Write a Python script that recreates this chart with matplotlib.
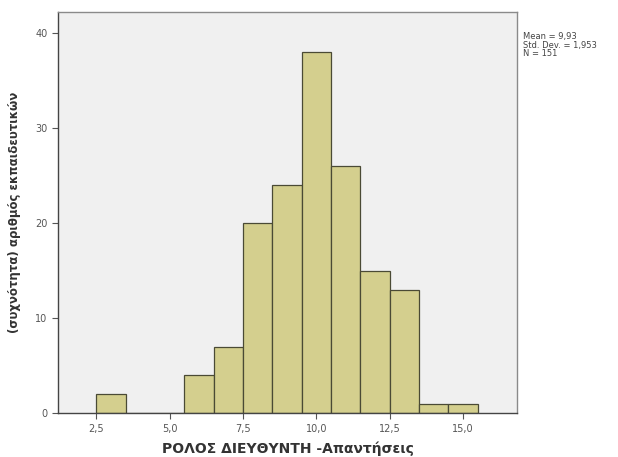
import matplotlib.pyplot as plt
from matplotlib.ticker import FuncFormatter

# histogram bins (left edges) and counts
bin_lefts = [2.5, 3.5, 4.5, 5.5, 6.5, 7.5, 8.5, 9.5, 10.5, 11.5, 12.5, 13.5, 14.5]
counts = [2, 0, 0, 4, 7, 20, 24, 38, 26, 15, 13, 1, 1]
bin_width = 1.0

x_ticks = [2.5, 5.0, 7.5, 10.0, 12.5, 15.0]
y_ticks = [0, 10, 20, 30, 40]

stats_text = "Mean = 9,93\nStd. Dev. = 1,953\nN = 151"
x_label = "ΡΟΛΟΣ ΔΙΕΥΘΥΝΤΗ -Απαντήσεις"
y_label = "(συχνότητα) αριθμός εκπαιδευτικών"


def comma(v, pos):
    return ("%.1f" % v).replace(".", ",")


fig = plt.figure(figsize=(6.18, 4.57), dpi=100)
ax = fig.add_axes([0.094, 0.096, 0.743, 0.878])
ax.set_facecolor("#f0f0f0")

ax.bar(bin_lefts, counts, width=bin_width, align="edge",
       color="#d4cf8e", edgecolor="#4a4a35", linewidth=0.9)

ax.set_xlim(1.2, 16.85)
ax.set_ylim(0, 42.2)
ax.set_xticks(x_ticks)
ax.set_yticks(y_ticks)
ax.xaxis.set_major_formatter(FuncFormatter(comma))
ax.tick_params(labelsize=7, colors="#555555", length=4, width=0.8)

for side in ["top", "right"]:
    ax.spines[side].set_color("#8a8a8a")
    ax.spines[side].set_linewidth(1.0)
for side in ["left", "bottom"]:
    ax.spines[side].set_color("#444444")
    ax.spines[side].set_linewidth(1.0)

ax.set_xlabel(x_label, fontsize=10, fontweight="bold", color="#333333", labelpad=6)
ax.set_ylabel(y_label, fontsize=8.5, fontweight="bold", color="#333333", labelpad=10)

fig.text(0.846, 0.93, stats_text, fontsize=6, color="#444444",
         va="top", ha="left", linespacing=0.95)

fig.savefig("out.png", dpi=100)
